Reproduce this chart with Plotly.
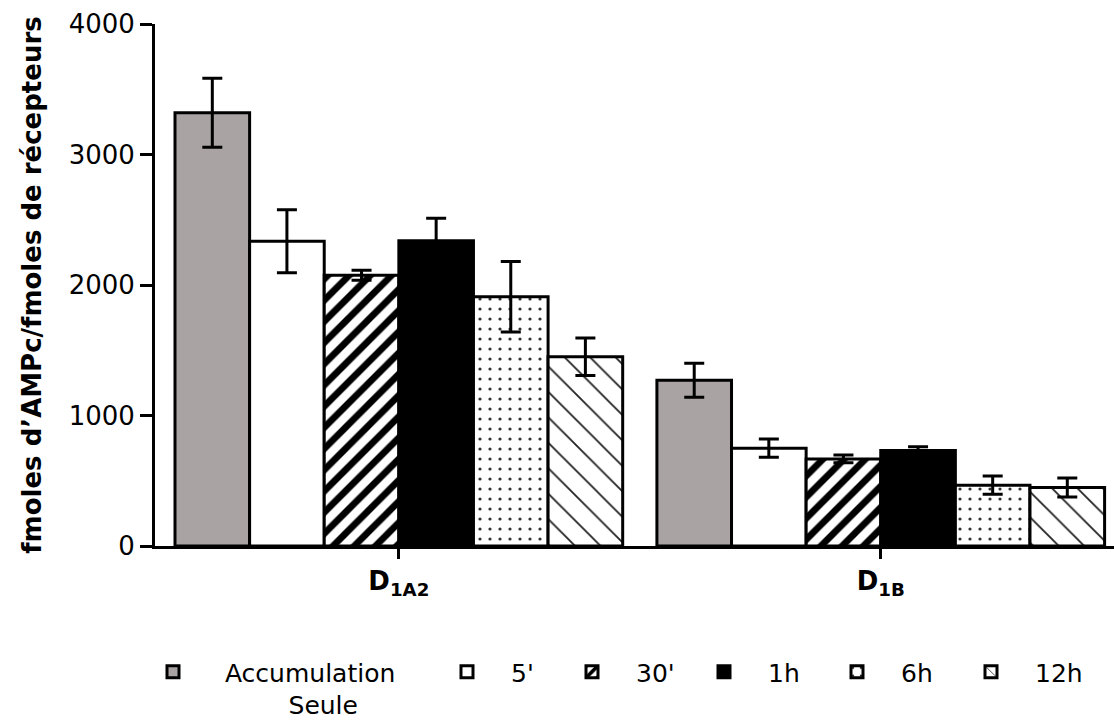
import plotly.graph_objects as go

# ---- data ----
groups = ["D1A2", "D1B"]
group_labels = ["<b>D<sub>1A2</sub></b>", "<b>D<sub>1B</sub></b>"]
series_names = ["Accumulation<br>Seule", "5'", "30'", "1h", "6h", "12h"]
values = {
    "Accumulation<br>Seule": [3320, 1270],
    "5'": [2335, 750],
    "30'": [2075, 667],
    "1h": [2340, 732],
    "6h": [1910, 466],
    "12h": [1450, 448],
}
errors = {
    "Accumulation<br>Seule": [265, 130],
    "5'": [242, 70],
    "30'": [38, 30],
    "1h": [171, 28],
    "6h": [270, 70],
    "12h": [143, 73],
}
y_ticks = [0, 1000, 2000, 3000, 4000]

# ---- styles ----
FONT = "DejaVu Sans"
styles = {
    "Accumulation<br>Seule": dict(color="#a9a3a3"),
    "5'": dict(color="white"),
    "30'": dict(color="white", pattern=dict(shape="/", fgcolor="black", bgcolor="white",
                                            size=15, solidity=0.45, fillmode="replace")),
    "1h": dict(color="black"),
    "6h": dict(color="white", pattern=dict(shape=".", fgcolor="#333333", bgcolor="white",
                                           size=10, solidity=0.08, fillmode="replace")),
    "12h": dict(color="white", pattern=dict(shape="\\", fgcolor="#222222", bgcolor="white",
                                            size=18, solidity=0.1, fillmode="replace")),
}
legend_names = {
    "Accumulation<br>Seule": "\u00a0Accumulation<br>\u00a0\u00a0\u00a0\u00a0\u00a0\u00a0\u00a0\u00a0\u00a0Seule",
}
# legend symbol centres (page px)
legend_sym_px = [173, 467, 592, 724, 857, 991]
LEG_ITEMW = 78
legend_top_px = 649

fig = go.Figure()
for i, name in enumerate(series_names):
    lg = "legend" if i == 0 else f"legend{i+1}"
    fig.add_trace(go.Bar(
        x=groups, y=values[name], name=legend_names.get(name, name),
        marker=dict(line=dict(color="black", width=3), **styles[name]),
        error_y=dict(type="data", array=errors[name], visible=True,
                     color="black", thickness=3, width=10),
        legend=lg, showlegend=True, hoverinfo="skip",
    ))

# plot area in page pixels
W, H = 1114, 722
PL, PR, PT, PB = 155, 1114, 24, 546
layout_legends = {}
for i, cx in enumerate(legend_sym_px):
    key = "legend" if i == 0 else f"legend{i+1}"
    left = cx - (LEG_ITEMW / 2 + 5)
    layout_legends[key] = dict(
        x=(left - PL) / (PR - PL), xref="paper", xanchor="left",
        y=(PB - legend_top_px) / (PB - PT), yref="paper", yanchor="top",
        orientation="v", valign="top", itemwidth=LEG_ITEMW,
        font=dict(family=FONT, size=25, color="black"),
        bgcolor="rgba(0,0,0,0)", borderwidth=0, itemclick=False,
    )

fig.update_layout(
    width=W, height=H, showlegend=True,
    margin=dict(l=PL, r=W - PR, t=PT, b=H - PB, autoexpand=False),
    plot_bgcolor="white", paper_bgcolor="white",
    barmode="group", bargap=0.071, bargroupgap=0,
    font=dict(family=FONT, color="black"),
    **layout_legends,
)
fig.update_xaxes(
    type="category", range=[-0.506, 1.484],
    tickvals=groups, ticktext=group_labels,
    showline=True, linecolor="black", linewidth=3,
    ticks="outside", ticklen=10, tickwidth=3, tickcolor="black",
    tickfont=dict(family=FONT, size=26, color="black"),
    showgrid=False, zeroline=False,
)
fig.update_yaxes(
    range=[0, 4000], tickvals=y_ticks,
    showline=True, linecolor="black", linewidth=3,
    ticks="outside", ticklen=12, tickwidth=3, tickcolor="black",
    tickfont=dict(family=FONT, size=26, color="black"),
    ticklabelstandoff=0,
    title=dict(text="<b>fmoles d\u2019AMPc/fmoles de récepteurs</b>",
               font=dict(family=FONT, size=26, color="black"), standoff=20),
    showgrid=False, zeroline=False,
)

fig.write_html("out.html", config={"displayModeBar": False},
               post_script="document.body.style.margin='0px';document.body.style.padding='0px';")
